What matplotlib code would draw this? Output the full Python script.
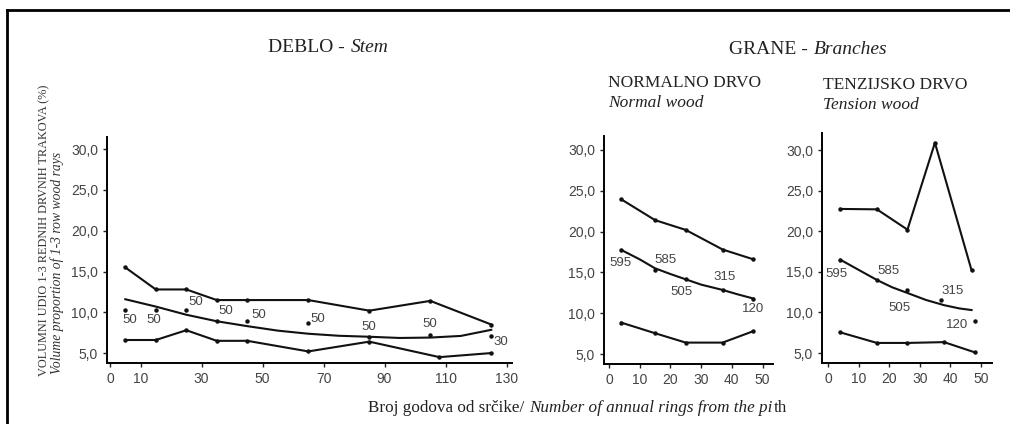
import matplotlib
matplotlib.use("Agg")
from matplotlib import pyplot as plt
from matplotlib.lines import Line2D

# stem (DEBLO)
stem_x = [5, 15, 25, 35, 45, 65, 85, 105, 125]
stem_upper = [15.5, 12.8, 12.8, 11.5, 11.5, 11.5, 10.2, 11.4, 8.5]
stem_lower_x = [5, 15, 25, 35, 45, 65, 85, 108, 125]
stem_lower = [6.6, 6.6, 7.8, 6.5, 6.5, 5.2, 6.4, 4.5, 5.0]
stem_fit_x = [5, 15, 25, 35, 45, 55, 65, 75, 85, 95, 105, 115, 125]
stem_fit = [11.6, 10.7, 9.7, 8.9, 8.3, 7.75, 7.37, 7.12, 7.0, 6.85, 6.9, 7.1, 7.85]
stem_mean = [10.3, 10.3, 10.3, 8.9, 8.9, 8.7, 7.0, 7.25, 7.1]
stem_n = ["50", "50", "50", "50", "50", "50", "50", "50", "30"]
stem_offs = [(4, -10), (-2, -10), (9, 8), (9, 10), (11, 6), (10, 4), (0, 10), (0, 11), (10, -6)]
stem_ticks = [0, 10, 30, 50, 70, 90, 110, 130]

# branches, normal wood
norm_x = [4, 15, 25, 37, 47]
norm_upper = [23.95, 21.4, 20.2, 17.8, 16.6]
norm_lower = [8.85, 7.55, 6.4, 6.4, 7.8]
norm_fit_x = [4, 10, 15, 20, 25, 30, 37, 42, 47]
norm_fit = [17.75, 16.6, 15.5, 14.8, 14.15, 13.5, 12.85, 12.3, 11.8]
norm_mean = [17.75, 15.3, 14.15, 12.9, 11.8]
norm_n = ["595", "585", "505", "315", "120"]
norm_offs = [(-1, -13), (10, 10), (-4, -13), (2, 13), (0, -10)]

# branches, tension wood
tens_x = [4, 16, 26, 35, 47]
tens_upper = [22.75, 22.7, 20.2, 30.9, 15.2]
tens_lower_x = [4, 16, 26, 38, 48]
tens_lower = [7.55, 6.25, 6.25, 6.35, 5.1]
tens_fit_x = [4, 10, 16, 21, 26, 32, 38, 43, 47]
tens_fit = [16.5, 15.25, 14.0, 13.1, 12.4, 11.55, 10.9, 10.5, 10.3]
tens_mean_x = [4, 16, 26, 37, 48]
tens_mean = [16.5, 14.0, 12.8, 11.55, 8.9]
tens_n = ["595", "585", "505", "315", "120"]
tens_offs = [(-4, -14), (12, 9), (-8, -18), (12, 9), (-18, -4)]

branch_ticks = [0, 10, 20, 30, 40, 50]
y_ticks = [5, 10, 15, 20, 25, 30]

W, H = 1010, 424
fig = plt.figure(figsize=(W / 100, H / 100), dpi=100)
serif = "Liberation Serif"
sans = "Liberation Sans"


def make_ax(left, right, top, bottom, xlim, ylim, xticks):
    ax = fig.add_axes([left / W, 1 - bottom / H, (right - left) / W, (bottom - top) / H])
    ax.set_xlim(*xlim)
    ax.set_ylim(*ylim)
    for s in ["top", "right"]:
        ax.spines[s].set_visible(False)
    for s in ["left", "bottom"]:
        ax.spines[s].set_linewidth(1.4)
    ax.set_xticks(xticks)
    ax.set_yticks(y_ticks)
    ax.set_yticklabels([("%.1f" % v).replace(".", ",") for v in y_ticks])
    ax.tick_params(length=3, width=1, color="#222", labelsize=10, labelcolor="#444")
    for lab in ax.get_xticklabels() + ax.get_yticklabels():
        lab.set_fontfamily(sans)
    ax.patch.set_alpha(0)
    return ax


def lines(ax, x, y):
    ax.plot(x, y, color="#111", lw=1.5, marker="o", ms=2.2, zorder=3)


def means(ax, x, y, labels, offs):
    ax.plot(x, y, "o", color="#111", ms=2.2, zorder=4)
    for xi, yi, t, o in zip(x, y, labels, offs):
        ax.annotate(t, (xi, yi), xytext=o, textcoords="offset pixels",
                    ha="center", va="center", fontsize=9.5, color="#444", family=sans)


ax1 = make_ax(107, 512, 137, 363, (-1, 131.8), (3.78, 31.5), stem_ticks)
lines(ax1, stem_x, stem_upper)
lines(ax1, stem_lower_x, stem_lower)
ax1.plot(stem_fit_x, stem_fit, color="#111", lw=1.5)
means(ax1, stem_x, stem_mean, stem_n, stem_offs)

ax2 = make_ax(604, 773, 136, 364, (-1.6, 53.4), (3.78, 31.7), branch_ticks)
lines(ax2, norm_x, norm_upper)
lines(ax2, norm_x, norm_lower)
ax2.plot(norm_fit_x, norm_fit, color="#111", lw=1.5)
means(ax2, norm_x, norm_mean, norm_n, norm_offs)

ax3 = make_ax(822, 992, 133, 363, (-2.0, 53.7), (3.78, 32.1), branch_ticks)
lines(ax3, tens_x, tens_upper)
lines(ax3, tens_lower_x, tens_lower)
ax3.plot(tens_fit_x, tens_fit, color="#111", lw=1.5)
means(ax3, tens_mean_x, tens_mean, tens_n, tens_offs)

renderer = fig.canvas.get_renderer()


def chain(x, y, parts, size):
    # parts: list of (text, italic) placed one after the other
    for s, it in parts:
        t = fig.text(x / W, 1 - y / H, s, fontsize=size, family=serif, color="#222",
                     style="italic" if it else "normal", va="center")
        x = t.get_window_extent(renderer).x1 + 1


chain(268, 48, [("DEBLO - ", False), ("Stem", True)], 14)
chain(729, 49, [("GRANE - ", False), ("Branches", True)], 14)
chain(608, 83, [("NORMALNO DRVO", False)], 12.5)
chain(608, 103, [("Normal wood", True)], 12.5)
chain(823, 85, [("TENZIJSKO DRVO", False)], 12.5)
chain(823, 105, [("Tension wood", True)], 12.5)
chain(368, 408, [("Broj godova od srčike/ ", False),
                 ("Number of annual rings from the pi", True), ("th", False)], 12.3)

fig.text(44 / W, 1 - 376 / H, "VOLUMNI UDIO 1-3 REDNIH DRVNIH TRAKOVA (%)", fontsize=8.8,
         family=serif, color="#333", rotation=90, ha="center", va="bottom")
fig.text(57 / W, 1 - 374 / H, "Volume proportion of 1-3 row wood rays", fontsize=9.8,
         family=serif, color="#333", style="italic", rotation=90, ha="center", va="bottom")

# frame
fig.add_artist(Line2D([7 / W, 7 / W], [0, 1 - 10 / H], transform=fig.transFigure,
                      color="black", lw=2))
fig.add_artist(Line2D([7 / W, 1], [1 - 10 / H, 1 - 10 / H], transform=fig.transFigure,
                      color="black", lw=2))

fig.savefig("out.png", dpi=100)
